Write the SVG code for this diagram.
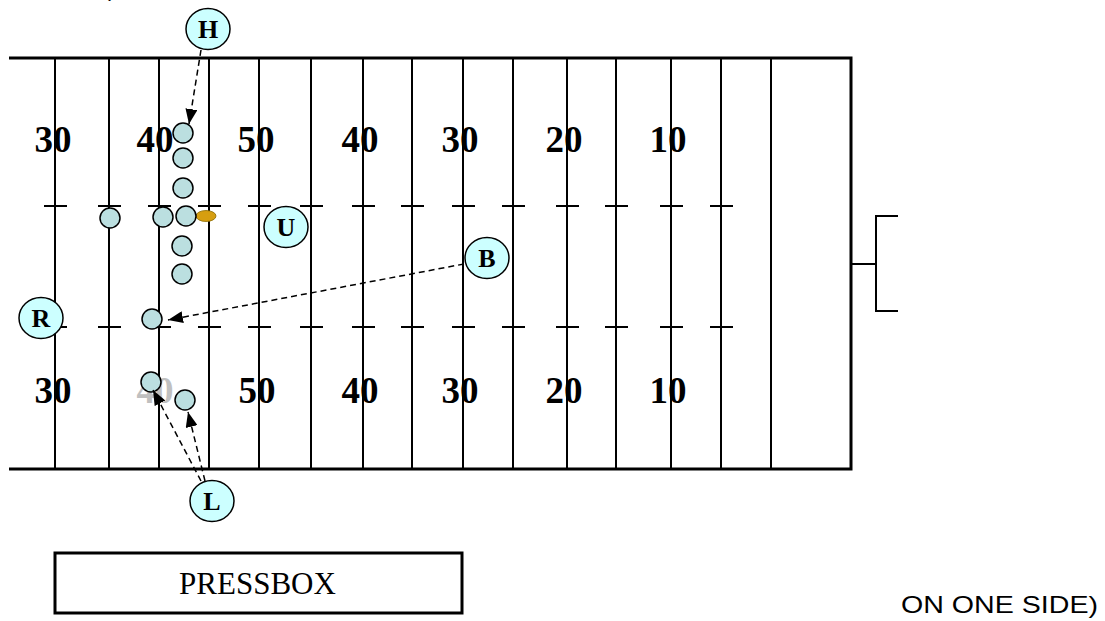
<svg xmlns="http://www.w3.org/2000/svg" width="1105" height="621" viewBox="0 0 1105 621">
<style>
.border{stroke:#000;stroke-width:3;fill:none}
.yl{stroke:#000;stroke-width:2}
.hash{stroke:#000;stroke-width:2}
.num{font-family:"Liberation Serif",serif;font-weight:bold;font-size:37px;text-anchor:middle;fill:#000}
.grey{fill:#C0C0C0}
.pl{fill:#BBDFE0;stroke:#000;stroke-width:1.5}
.off ellipse{fill:#CCFFFF;stroke:#000;stroke-width:1.5}
.off text{font-family:"Liberation Serif",serif;font-weight:bold;font-size:26px;text-anchor:middle;fill:#000}
.arr{stroke:#000;stroke-width:1.5;stroke-dasharray:6 4;fill:none;marker-end:url(#ah)}
</style>
<defs>
<marker id="ah" markerUnits="userSpaceOnUse" markerWidth="15" markerHeight="12" refX="15" refY="6" orient="auto">
<path d="M0,0 L15,6 L0,12 z" fill="#000"/>
</marker>
</defs>
<rect width="1105" height="621" fill="#fff"/>
<text x="108" y="-4" font-family="Liberation Sans,sans-serif" font-size="22">)</text>
<g id="field">
<g id="yardlines">
<line class="yl" x1="55" y1="58" x2="55" y2="469"/>
<line class="yl" x1="109" y1="58" x2="109" y2="469"/>
<line class="yl" x1="159" y1="58" x2="159" y2="469"/>
<line class="yl" x1="209" y1="58" x2="209" y2="469"/>
<line class="yl" x1="259" y1="58" x2="259" y2="469"/>
<line class="yl" x1="311" y1="58" x2="311" y2="469"/>
<line class="yl" x1="363" y1="58" x2="363" y2="469"/>
<line class="yl" x1="412" y1="58" x2="412" y2="469"/>
<line class="yl" x1="463" y1="58" x2="463" y2="469"/>
<line class="yl" x1="513" y1="58" x2="513" y2="469"/>
<line class="yl" x1="567" y1="58" x2="567" y2="469"/>
<line class="yl" x1="616" y1="58" x2="616" y2="469"/>
<line class="yl" x1="671" y1="58" x2="671" y2="469"/>
<line class="yl" x1="721" y1="58" x2="721" y2="469"/>
<line class="yl" x1="771" y1="58" x2="771" y2="469" stroke="#333"/>
</g>
<g id="hashes">
<path class="hash" d="M44,206h23M98,206h23M148,206h23M198,206h23M248,206h23M300,206h23M352,206h23M401,206h23M452,206h23M502,206h23M556,206h23M605,206h23M660,206h23M710,206h23"/>
<path class="hash" d="M44,327h23M98,327h23M148,327h23M198,327h23M248,327h23M300,327h23M352,327h23M401,327h23M452,327h23M502,327h23M556,327h23M605,327h23M660,327h23M710,327h23"/>
</g>
<path class="border" d="M9,58 H851 V469 H9"/>
<g id="numbers">
<text class="num" x="53" y="152">30</text>
<text class="num" x="155" y="152">40</text>
<text class="num" x="256" y="152">50</text>
<text class="num" x="360" y="152">40</text>
<text class="num" x="460" y="152">30</text>
<text class="num" x="564" y="152">20</text>
<text class="num" x="668" y="152">10</text>
<text class="num" x="53" y="403">30</text>
<text class="num grey" x="155" y="403">40</text>
<text class="num" x="257" y="403">50</text>
<text class="num" x="360" y="403">40</text>
<text class="num" x="460" y="403">30</text>
<text class="num" x="564" y="403">20</text>
<text class="num" x="668" y="403">10</text>
</g>
</g>
<g id="bracket" fill="none" stroke="#000" stroke-width="2">
<path d="M851,264 H876 M898,216 H876 V311 H898"/>
</g>
<g id="ball"><ellipse cx="206" cy="216" rx="10" ry="5.5" fill="#D69E10" stroke="#8a6a00" stroke-width="0.8"/></g>
<g id="players">
<circle class="pl" cx="183" cy="133" r="10"/>
<circle class="pl" cx="183" cy="158" r="10"/>
<circle class="pl" cx="183" cy="188" r="10"/>
<circle class="pl" cx="186" cy="216" r="10"/>
<circle class="pl" cx="163" cy="217" r="10"/>
<circle class="pl" cx="110" cy="218" r="10"/>
<circle class="pl" cx="182" cy="246" r="10"/>
<circle class="pl" cx="182" cy="274" r="10"/>
<circle class="pl" cx="152" cy="319" r="10"/>
<circle class="pl" cx="151" cy="382" r="10"/>
<circle class="pl" cx="185" cy="400" r="10"/>
</g>
<g id="H" class="off"><ellipse cx="208" cy="29" rx="22" ry="20.5"/><text x="208" y="38">H</text></g>
<g id="U" class="off"><ellipse cx="286" cy="227" rx="22" ry="20.5"/><text x="286" y="236">U</text></g>
<g id="B" class="off"><ellipse cx="487" cy="258" rx="22" ry="20.5"/><text x="487" y="267">B</text></g>
<g id="R" class="off"><ellipse cx="41" cy="318" rx="22" ry="20.5"/><text x="41" y="327">R</text></g>
<g id="L" class="off"><ellipse cx="212" cy="501" rx="22" ry="20.5"/><text x="212" y="510">L</text></g>
<g id="connectors">
<line class="arr" x1="201" y1="50" x2="189" y2="124"/>
<line class="arr" x1="464" y1="264" x2="168" y2="320"/>
<line class="arr" x1="201" y1="481" x2="153" y2="390"/>
<line class="arr" x1="205" y1="481" x2="188" y2="412"/>
</g>
<g id="pressbox">
<rect x="55" y="553" width="407" height="60" fill="none" stroke="#000" stroke-width="3"/>
<text x="257.5" y="594" font-family="Liberation Serif,serif" font-size="31" text-anchor="middle">PRESSBOX</text>
</g>
<text x="901" y="613" font-family="Liberation Sans,sans-serif" font-size="24" textLength="197" lengthAdjust="spacingAndGlyphs">ON ONE SIDE)</text>
</svg>
